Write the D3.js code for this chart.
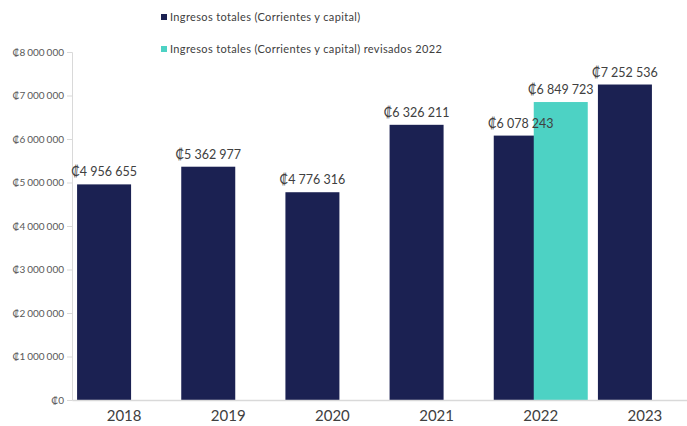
<!DOCTYPE html>
<html>
<head>
<meta charset="utf-8">
<script src="https://cdn.jsdelivr.net/npm/d3@7"></script>
<style>
  body { margin: 0; background: #fff; }
  text { font-family: Lato, "DejaVu Sans", sans-serif; }
</style>
</head>
<body>
<div id="chart"></div>
<script>
(function () {

  // data
  const years = ['2018', '2019', '2020', '2021', '2022', '2023']
  const series = ['Ingresos totales (Corrientes y capital)', 'Ingresos totales (Corrientes y capital) revisados 2022']
  const totals = [4956655, 5362977, 4776316, 6326211, 6078243, 7252536]
  const revised = [null, null, null, null, 6849723, null]
  const yTicks = [0, 1000000, 2000000, 3000000, 4000000, 5000000, 6000000, 7000000, 8000000]
  const colors = ['#1b2152', '#4dd2c4']

  const width = 687
  const height = 426

  const svg = d3.select('#chart').append('svg')
    .attr('width', width)
    .attr('height', height)

  // space formatting like "8 000 000"
  const fmt = d => d3.format(',')(d).replace(/,/g, ' ')

  const xScale = d3.scaleBand()
    .domain(years)
    .range([72, 697])

  // two overlapping clustered bars, centres offset from the category centre
  const xInner = d3.scalePoint()
    .domain(series)
    .range([-20, 20])
  const barWidth = 54

  const yScale = d3.scaleLinear()
    .domain([0, 8000000])
    .range([400, 52])

  const rows = []
  years.forEach((y, i) => {
    rows.push({ year: y, s: 0, value: totals[i] })
    if (revised[i] != null) rows.push({ year: y, s: 1, value: revised[i] })
  })

  // y axis
  const yAxis = d3.axisLeft(yScale)
    .tickValues(yTicks)
    .tickFormat(d => '\u20A1' + fmt(d))
    .tickSize(5)
    .tickPadding(3)
  const yg = svg.append('g')
    .attr('transform', 'translate(72,0)')
    .call(yAxis)
  yg.select('.domain').attr('stroke', '#d9d9d9')
  yg.selectAll('.tick line').attr('stroke', '#d9d9d9')
  yg.selectAll('.tick text')
    .attr('fill', '#595959')
    .attr('font-size', 10)
    .attr('word-spacing', '-0.6')

  // bars
  svg.selectAll('rect.bar')
    .data(rows)
    .join('rect')
    .attr('class', 'bar')
    .attr('x', d => xScale(d.year) + xScale.bandwidth() / 2 + xInner(series[d.s]) - barWidth / 2)
    .attr('width', barWidth)
    .attr('y', d => yScale(d.value))
    .attr('height', d => yScale(0) - yScale(d.value))
    .attr('fill', d => colors[d.s])

  // x axis
  const xAxis = d3.axisBottom(xScale).tickSize(0).tickPadding(10)
  const xg = svg.append('g')
    .attr('transform', 'translate(0,400)')
    .call(xAxis)
  xg.select('.domain').attr('stroke', '#d9d9d9').attr('stroke-width', 1.5)
  xg.selectAll('.tick text')
    .attr('fill', '#404040')
    .attr('font-size', 15)

  // value labels
  svg.selectAll('text.val')
    .data(rows)
    .join('text')
    .attr('class', 'val')
    .attr('x', d => xScale(d.year) + xScale.bandwidth() / 2 + xInner(series[d.s]))
    .attr('y', d => yScale(d.value) - 8)
    .attr('text-anchor', 'middle')
    .attr('fill', '#404040')
    .attr('font-size', 12.5)
    .text(d => '\u20A1' + fmt(d.value))

  // legend
  const legend = svg.append('g')
  series.forEach((s, i) => {
    const ly = 18 + i * 32
    legend.append('rect')
      .attr('x', 161)
      .attr('y', ly - 4)
      .attr('width', 6)
      .attr('height', 6)
      .attr('fill', colors[i])
    legend.append('text')
      .attr('x', 170)
      .attr('y', ly + 3)
      .attr('fill', '#404040')
      .attr('font-size', 11)
      .attr('letter-spacing', '0.35')
      .text(s)
  })

})();
</script>
</body>
</html>
